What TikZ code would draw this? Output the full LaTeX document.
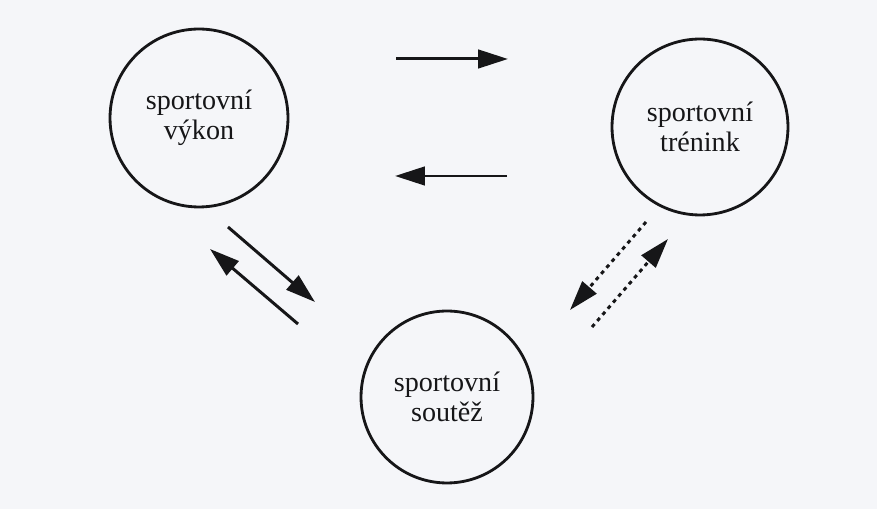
\documentclass[tikz,border=0pt]{standalone}
\usepackage{fontspec}
\setmainfont{Liberation Serif}
\usepackage{tikz}
\usetikzlibrary{positioning,arrows.meta}
\definecolor{scanbg}{RGB}{245,246,249}
\definecolor{inkdark}{RGB}{22,22,24}
\tikzset{
  kruh/.style={circle,draw=inkdark,line width=1.6pt,inner sep=0pt,align=center,
    text=inkdark,font=\fontsize{16}{16.8}\selectfont},
  sip/.style={-{Triangle[length=17pt,width=10.5pt]},line width=1.7pt,inkdark},
  tecky/.style={sip,dash pattern=on 2.2pt off 2.4pt},
}
\begin{document}
\begin{tikzpicture}[x=0.02cm,y=-0.02cm]
\fill[scanbg] (0,0) rectangle (877,509);
\useasboundingbox (0,0) rectangle (877,509);
% kruhy
\node[kruh,minimum size=3.56cm] (vy) at (199,118) {sportovní\\výkon};
\node[kruh,minimum size=3.52cm] (tr) at (700,127) {sportovní\\trénink};
\node[kruh,minimum size=3.44cm] (so) at (447,397) {sportovní\\soutěž};
% konce sipek
\coordinate (p1) at (396,59); \coordinate (p2) at (508,59);
\coordinate (q1) at (507,176); \coordinate (q2) at (395,176);
\coordinate (r1) at (228,227); \coordinate (r2) at (315,302);
\coordinate (s1) at (298,324); \coordinate (s2) at (210,249);
\coordinate (t1) at (646,222); \coordinate (t2) at (570,310);
\coordinate (u1) at (592,327); \coordinate (u2) at (668,239);
\draw[sip](p1)--(p2);\draw[sip](q1)--(q2);
\draw[sip](r1)--(r2);\draw[sip](s1)--(s2);
\draw[tecky](t1)--(t2);\draw[tecky](u1)--(u2);
\end{tikzpicture}
\end{document}
